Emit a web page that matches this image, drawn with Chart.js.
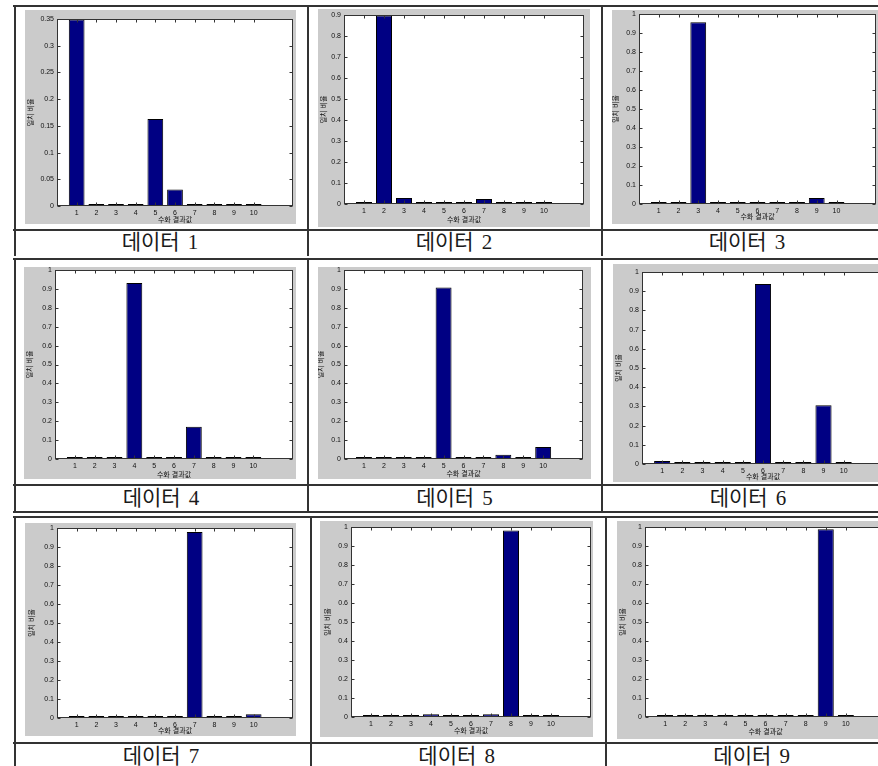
<!DOCTYPE html>
<html>
<head>
<meta charset="utf-8">
<script src="https://cdn.jsdelivr.net/npm/chart.js@4/dist/chart.umd.min.js"></script>
<style>
  html, body { margin: 0; padding: 0; background: #fff; }
  body { width: 878px; height: 766px; overflow: hidden; position: relative; }
  .ln { position: absolute; background: #333; }
  .cap { position: absolute; font-family: "Liberation Serif", "Noto Sans CJK KR", serif; font-size: 21px;
         color: #1a1a1a; transform: translate(-50%, -50%); white-space: nowrap; line-height: 1; word-spacing: 3px; }
  canvas.pn { position: absolute; background: #cbcbcb; filter: blur(0.3px); }
</style>
</head>
<body>
<script>
// categories on the x axis (recognised sign result value)
const categories = [1, 2, 3, 4, 5, 6, 7, 8, 9, 10];

// match ratio per result value, one array per data set
const data1 = [0.349, 0.001, 0.001, 0.001, 0.163, 0.031, 0.001, 0.002, 0.001, 0.001];
const data2 = [0.006, 0.898, 0.029, 0.002, 0.002, 0.002, 0.024, 0.009, 0.002, 0.002];
const data3 = [0.002, 0.006, 0.956, 0.002, 0.005, 0.002, 0.002, 0.002, 0.032, 0.002];
const data4 = [0.003, 0.010, 0.003, 0.931, 0.010, 0.003, 0.171, 0.010, 0.003, 0.003];
const data5 = [0.010, 0.002, 0.002, 0.002, 0.908, 0.002, 0.002, 0.023, 0.005, 0.064];
const data6 = [0.015, 0.002, 0.002, 0.002, 0.002, 0.937, 0.005, 0.002, 0.306, 0.005];
const data7 = [0.002, 0.006, 0.006, 0.008, 0.002, 0.002, 0.979, 0.010, 0.002, 0.020];
const data8 = [0.002, 0.002, 0.002, 0.014, 0.005, 0.002, 0.014, 0.982, 0.005, 0.002];
const data9 = [0.002, 0.005, 0.002, 0.002, 0.002, 0.002, 0.002, 0.005, 0.988, 0.005];

// y tick values
const yTicks035 = [0, 0.05, 0.1, 0.15, 0.2, 0.25, 0.3, 0.35];
const yTicks09 = [0, 0.1, 0.2, 0.3, 0.4, 0.5, 0.6, 0.7, 0.8, 0.9];
const yTicks1 = [0, 0.1, 0.2, 0.3, 0.4, 0.5, 0.6, 0.7, 0.8, 0.9, 1];

const captions = ['데이터 1', '데이터 2', '데이터 3', '데이터 4', '데이터 5', '데이터 6', '데이터 7', '데이터 8', '데이터 9'];
const xAxisTitle = '수화 결과값';
const yAxisTitle = '일치 비율';

const series = [data1, data2, data3, data4, data5, data6, data7, data8, data9];
const tickSets = [yTicks035, yTicks09, yTicks1, yTicks1, yTicks1, yTicks1, yTicks1, yTicks1, yTicks1];

// panel boxes: canvas (x, y, w, h) and plot area edges (pl, pt, pr, pb), page pixels
const panels = [
  { x: 25,  y: 10,  w: 271, h: 214, pl: 57,  pt: 19,  pr: 293, pb: 206, ytp: 2.5, xtb: 0.5 },
  { x: 318, y: 9,   w: 272, h: 218, pl: 344, pt: 15,  pr: 584, pb: 204, ytp: 2.8, xtb: 3.5 },
  { x: 612, y: 10,  w: 290, h: 214, pl: 639, pt: 14,  pr: 876, pb: 204, ytp: 0.2, xtb: 3.8 },
  { x: 24,  y: 267, w: 272, h: 212, pl: 55,  pt: 270, pr: 293, pb: 459, ytp: 2.5, xtb: 0.5 },
  { x: 318, y: 267, w: 273, h: 212, pl: 344, pt: 270, pr: 583, pb: 459, ytp: 0,   xtb: 1.5 },
  { x: 613, y: 264, w: 290, h: 218, pl: 642, pt: 272, pr: 884, pb: 464, ytp: 2.8, xtb: 1.5 },
  { x: 25,  y: 523, w: 271, h: 213, pl: 57,  pt: 528, pr: 293, pb: 718, ytp: 3.8, xtb: 1.8 },
  { x: 320, y: 521, w: 273, h: 216, pl: 351, pt: 527, pr: 591, pb: 717, ytp: 4.8, xtb: 2.8 },
  { x: 617, y: 521, w: 290, h: 218, pl: 645, pt: 527, pr: 886, pb: 717, ytp: 2.8, xtb: 3.8 }
];

const captionPos = [
  [160, 242], [454, 242], [747, 242],
  [161, 498], [454.5, 498], [748, 498],
  [161, 755.5], [456.7, 755.5], [751.7, 755.5]
];

// table rules
function hline(x1, x2, y) {
  const d = document.createElement('div'); d.className = 'ln';
  Object.assign(d.style, { left: x1 + 'px', top: (y - 1) + 'px', width: (x2 - x1) + 'px', height: '2px' });
  document.body.appendChild(d);
}
function vline(x, y1, y2) {
  const d = document.createElement('div'); d.className = 'ln';
  Object.assign(d.style, { left: (x - 1) + 'px', top: y1 + 'px', width: '2px', height: (y2 - y1) + 'px' });
  document.body.appendChild(d);
}
hline(13, 900, 6); hline(13, 900, 230);
[14.5, 307.8, 601.6].forEach(x => vline(x, 6, 256));
hline(13, 900, 259); hline(13, 900, 484.5); hline(13, 900, 512);
[14.5, 307.8, 601.6].forEach(x => vline(x, 259, 512));
hline(13, 900, 516.5); hline(13, 900, 742.5);
[14.5, 310.8, 605.5].forEach(x => vline(x, 516.5, 766));

captions.forEach((t, i) => {
  const d = document.createElement('div'); d.className = 'cap'; d.textContent = t;
  d.style.left = captionPos[i][0] + 'px'; d.style.top = captionPos[i][1] + 'px';
  document.body.appendChild(d);
});

const FONT = '"Liberation Sans", "Noto Sans CJK KR", sans-serif';

// white plot area, box frame and inward ticks on all four sides
const framePlugin = {
  id: 'frame',
  beforeDraw(chart) {
    const { ctx, chartArea: a } = chart;
    ctx.save(); ctx.fillStyle = '#fff';
    ctx.fillRect(a.left, a.top, a.right - a.left, a.bottom - a.top);
    ctx.restore();
  },
  afterDatasetsDraw(chart) {
    const { ctx, chartArea: a, scales: { x, y } } = chart;
    const L = Math.round(a.left) + 0.5, R = Math.round(a.right) - 0.5;
    const T = Math.round(a.top) + 0.5, B = Math.round(a.bottom) - 0.5;
    ctx.save();
    ctx.strokeStyle = '#333'; ctx.lineWidth = 1;
    ctx.strokeRect(L, T, R - L, B - T);
    ctx.beginPath();
    x.ticks.forEach(t => {
      const px = Math.round(x.getPixelForValue(t.value)) + 0.5;
      ctx.moveTo(px, B); ctx.lineTo(px, B - 3);
      ctx.moveTo(px, T); ctx.lineTo(px, T + 3);
    });
    y.ticks.forEach(t => {
      const py = Math.round(y.getPixelForValue(t.value)) + 0.5;
      ctx.moveTo(L, py); ctx.lineTo(L + 3, py);
      ctx.moveTo(R, py); ctx.lineTo(R - 3, py);
    });
    ctx.stroke();
    ctx.restore();
  }
};

function makePanel(p, values, yTicks) {
  const cv = document.createElement('canvas');
  cv.className = 'pn';
  cv.width = p.w; cv.height = p.h;
  Object.assign(cv.style, { left: p.x + 'px', top: p.y + 'px', width: p.w + 'px', height: p.h + 'px' });
  document.body.appendChild(cv);
  const yMax = yTicks[yTicks.length - 1];
  new Chart(cv, {
    type: 'bar',
    data: {
      labels: categories,
      datasets: [{
        data: values,
        backgroundColor: '#000083',
        borderColor: '#000',
        borderWidth: 1,
        borderSkipped: false,
        categoryPercentage: 0.8,
        barPercentage: 1,
        minBarLength: 2
      }]
    },
    options: {
      responsive: false,
      maintainAspectRatio: false,
      animation: false,
      devicePixelRatio: 1,
      layout: { padding: { left: 0, top: p.pt - p.y, right: p.x + p.w - p.pr, bottom: 0 } },
      plugins: { legend: { display: false }, tooltip: { enabled: false } },
      scales: {
        x: {
          type: 'linear', min: 0, max: 12, offset: false,
          grid: { display: false, drawTicks: false, offset: false },
          border: { display: false },
          afterBuildTicks: s => { s.ticks = categories.map(v => ({ value: v })); },
          afterFit: s => { s.height = p.y + p.h - p.pb; s.paddingLeft = 0; s.paddingRight = 0; },
          ticks: { autoSkip: false, maxRotation: 0, padding: 3, color: '#111', font: { family: FONT, size: 7 } },
          title: { display: true, text: xAxisTitle, color: '#111',
                   font: { family: FONT, size: 7, lineHeight: 1 }, padding: { top: 0, bottom: p.xtb } }
        },
        y: {
          min: 0, max: yMax,
          grid: { display: false, drawTicks: false },
          border: { display: false },
          afterBuildTicks: s => { s.ticks = yTicks.map(v => ({ value: v })); },
          afterFit: s => { s.width = p.pl - p.x; s.paddingTop = 0; s.paddingBottom = 0; },
          ticks: { padding: 3, color: '#111', font: { family: FONT, size: 7 },
                   callback: v => String(Number(Number(v).toFixed(2))) },
          title: { display: true, text: yAxisTitle, color: '#111',
                   font: { family: FONT, size: 7, lineHeight: 1 }, padding: { top: p.ytp, bottom: 0 } }
        }
      }
    },
    plugins: [framePlugin]
  });
}

panels.forEach((p, i) => makePanel(p, series[i], tickSets[i]));
</script>
</body>
</html>
